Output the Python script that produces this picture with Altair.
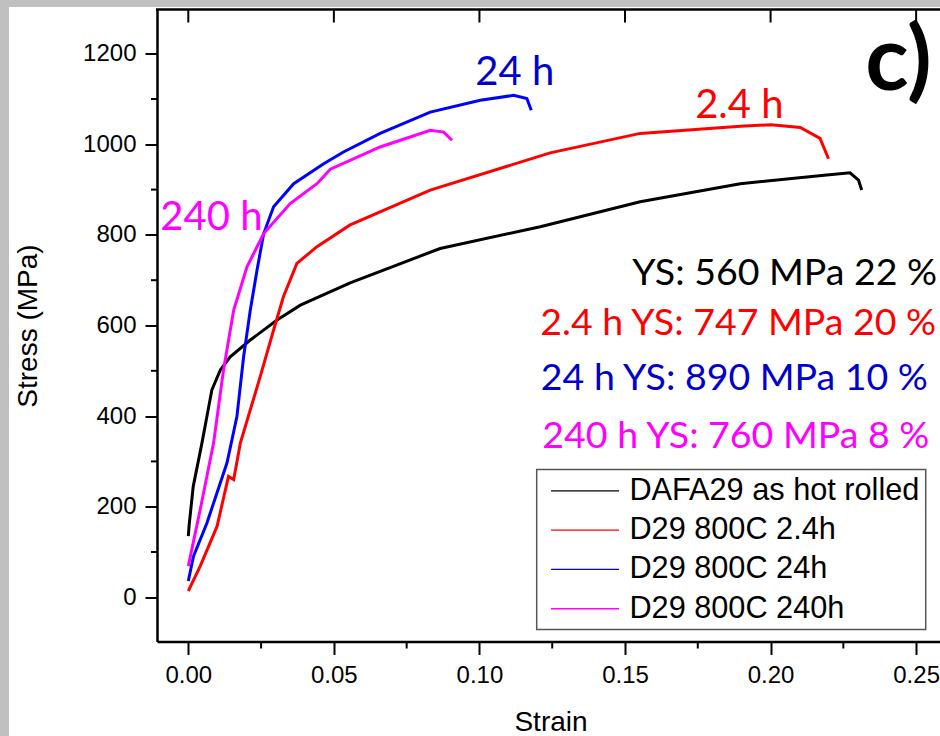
import altair as alt
import pandas as pd

# ---------------- data ----------------
series_names = ["DAFA29 as hot rolled", "D29 800C 2.4h", "D29 800C 24h", "D29 800C 240h"]
series_colors = ["#000000", "#ff0000", "#0000ff", "#ff00ff"]

black_strain = [0.0, 0.0003, 0.0017, 0.0047, 0.0081, 0.011, 0.0144, 0.0213, 0.0305, 0.0385,
                0.0556, 0.0865, 0.1209, 0.1552, 0.1896, 0.2193, 0.2273, 0.2302, 0.2313]
black_stress = [135, 160, 245, 341, 458, 502, 531, 568, 612, 645,
                694, 770, 818, 873, 913, 932, 937, 921, 899]

red_strain = [0.0, 0.0041, 0.0099, 0.0138, 0.0156, 0.0179, 0.0247, 0.0293, 0.0327, 0.0373,
              0.0442, 0.0556, 0.0831, 0.1243, 0.1552, 0.1896, 0.2002, 0.2102, 0.217, 0.2199]
red_stress = [14, 69, 157, 267, 260, 341, 487, 590, 664, 737,
              774, 822, 899, 981, 1024, 1040, 1043, 1037, 1013, 968]

blue_strain = [0.0, 0.0018, 0.0064, 0.0133, 0.0167, 0.019, 0.0213, 0.0236, 0.0259, 0.0293,
               0.0362, 0.0465, 0.0533, 0.0659, 0.0831, 0.1003, 0.1117, 0.1163, 0.1178]
blue_stress = [36, 91, 164, 297, 399, 531, 634, 722, 803, 862,
               913, 957, 983, 1024, 1071, 1097, 1108, 1101, 1075]

magenta_strain = [0.0, 0.0041, 0.0087, 0.0121, 0.0156, 0.0202, 0.0259, 0.035, 0.0442, 0.0488,
                  0.0659, 0.0831, 0.0877, 0.0906]
magenta_stress = [69, 194, 341, 502, 634, 730, 803, 869, 913, 945,
                  994, 1031, 1027, 1009]

x_major_ticks = [0.0, 0.05, 0.10, 0.15, 0.20, 0.25]
x_minor_ticks = [0.025, 0.075, 0.125, 0.175, 0.225]
y_major_ticks = [0, 200, 400, 600, 800, 1000, 1200]
y_minor_ticks = [100, 300, 500, 700, 900, 1100]

# curve labels (anchored in data coordinates)
curve_texts = ["24 h", "2.4 h", "240 h"]
curve_strain = [0.0986, 0.1741, -0.0096]
curve_stress = [1130, 1057, 810]
curve_colors = ["#0000cc", "#ff0000", "#ff00ff"]

# yield-strength notes
note_texts = ["YS: 560 MPa 22 %", "2.4 h YS: 747 MPa 20 %",
              "24 h YS: 890 MPa 10 %", "240 h YS: 760 MPa 8 %"]
note_strain = [0.1525, 0.1209, 0.1211, 0.1216]
note_stress = [689, 579, 458, 330]
note_colors = ["#000000", "#ff0000", "#0000cc", "#ff00ff"]

panel_text = ["c)"]
panel_strain = [0.2325]
panel_stress = [1119]

# ---------------- build tables ----------------
rows = []
for name, xs, ys in zip(series_names,
                        [black_strain, red_strain, blue_strain, magenta_strain],
                        [black_stress, red_stress, blue_stress, magenta_stress]):
    for i, (a, b) in enumerate(zip(xs, ys)):
        rows.append({"series": name, "strain": a, "stress": b, "idx": i})
df = pd.DataFrame(rows)

curve_df = pd.DataFrame({"text": curve_texts, "strain": curve_strain,
                         "stress": curve_stress, "col": curve_colors})
note_df = pd.DataFrame({"text": note_texts, "strain": note_strain,
                        "stress": note_stress, "col": note_colors})
panel_df = pd.DataFrame({"text": panel_text, "strain": panel_strain, "stress": panel_stress})
xmaj_df = pd.DataFrame({"strain": x_major_ticks})
xmin_df = pd.DataFrame({"strain": x_minor_ticks})
ymin_df = pd.DataFrame({"stress": y_minor_ticks})
dummy = pd.DataFrame({"a": [0]})

W, H = 783, 632
xscale = alt.Scale(domain=[-0.01075, 0.2582], nice=False, zero=False)
yscale = alt.Scale(domain=[-97.5, 1297.5], nice=False, zero=False)

x_axis = alt.Axis(
    values=x_major_ticks, format=".2f",
    tickSize=13, tickWidth=2, tickColor="black",
    domainColor="black", domainWidth=2.5,
    labelFont="Liberation Sans", labelFontSize=24, labelColor="black",
    labelPadding=9, labelFlush=False, labelOverlap=False,
    title="Strain", titleFont="Liberation Sans", titleFontSize=28,
    titleFontWeight="normal", titleColor="black",
    titleBaseline="alphabetic", titleY=89, titleX=W / 2 + 2,
    grid=False,
)
y_axis = alt.Axis(
    values=y_major_ticks, format="d",
    tickSize=12, tickWidth=2, tickColor="black",
    domainColor="black", domainWidth=2.5,
    labelFont="Liberation Sans", labelFontSize=24, labelColor="black",
    labelPadding=9, labelFlush=False, labelOverlap=False,
    title="Stress (MPa)", titleFont="Liberation Sans", titleFontSize=28,
    titleFontWeight="normal", titleColor="black",
    titleAngle=270, titleAlign="center", titleBaseline="middle",
    titleX=-129, titleY=H / 2,
    grid=False,
)

X = alt.X("strain:Q", scale=xscale, axis=x_axis)
Y = alt.Y("stress:Q", scale=yscale, axis=y_axis)

lines = alt.Chart(df).mark_line(strokeWidth=3, clip=True).encode(
    x=X,
    y=Y,
    color=alt.Color(
        "series:N",
        scale=alt.Scale(domain=series_names, range=series_colors),
        legend=alt.Legend(
            title=None, orient="none", legendX=379.7, legendY=460,
            fillColor="white", strokeColor="#555555", padding=6,
            symbolType="M-4,0H4", symbolSize=289, symbolStrokeWidth=1.3,
            symbolOffset=27,
            labelFont="Liberation Sans", labelFontSize=30.7, labelColor="black",
            labelOffset=29, labelLimit=500, rowPadding=7.3,
        ),
    ),
    order="idx:Q",
)

curve_layer = alt.Chart(curve_df).mark_text(
    font="Lato", fontSize=40, align="left", baseline="alphabetic"
).encode(x=X, y=Y, text="text:N", color=alt.Color("col:N", scale=None))

note_layer = alt.Chart(note_df).mark_text(
    font="Lato", fontSize=37.5, align="left", baseline="alphabetic"
).encode(x=X, y=Y, text="text:N", color=alt.Color("col:N", scale=None))

panel_layer = alt.Chart(panel_df).mark_text(
    font="Lato", fontSize=90, fontWeight="bold", align="left", baseline="alphabetic",
    color="black",
).encode(x=X, y=Y, text="text:N")

top_spine = alt.Chart(dummy).mark_rule(color="black", strokeWidth=2.5).encode(
    x=alt.value(-1), x2=alt.value(W), y=alt.value(0)
)
top_ticks = alt.Chart(xmaj_df).mark_rule(color="black", strokeWidth=2).encode(
    x=X, y=alt.value(0), y2=alt.value(13)
)
x_minor = alt.Chart(xmin_df).mark_rule(color="black", strokeWidth=2).encode(
    x=X, y=alt.value(H), y2=alt.value(H + 7)
)
y_minor = alt.Chart(ymin_df).mark_rule(color="black", strokeWidth=2).encode(
    y=Y, x=alt.value(-6), x2=alt.value(0)
)
gray_top = alt.Chart(dummy).mark_rect(color="#c0c0c0").encode(
    x=alt.value(-157), x2=alt.value(W), y=alt.value(-9.5), y2=alt.value(-2.5)
)
gray_left = alt.Chart(dummy).mark_rect(color="#c0c0c0").encode(
    x=alt.value(-157), x2=alt.value(-148), y=alt.value(-9.5), y2=alt.value(H + 94.5)
)

chart = alt.layer(
    lines, gray_top, gray_left, curve_layer, note_layer, panel_layer,
    top_spine, top_ticks, x_minor, y_minor
).properties(
    width=W, height=H,
    padding={"left": 157, "top": 9.5, "right": 0, "bottom": 94.5},
    autosize=alt.AutoSizeParams(type="none"),
    background="white",
).configure_view(strokeWidth=0).configure_legend(strokeWidth=1.5)

chart.save("out.html", embed_options={"renderer": "svg", "actions": False})
